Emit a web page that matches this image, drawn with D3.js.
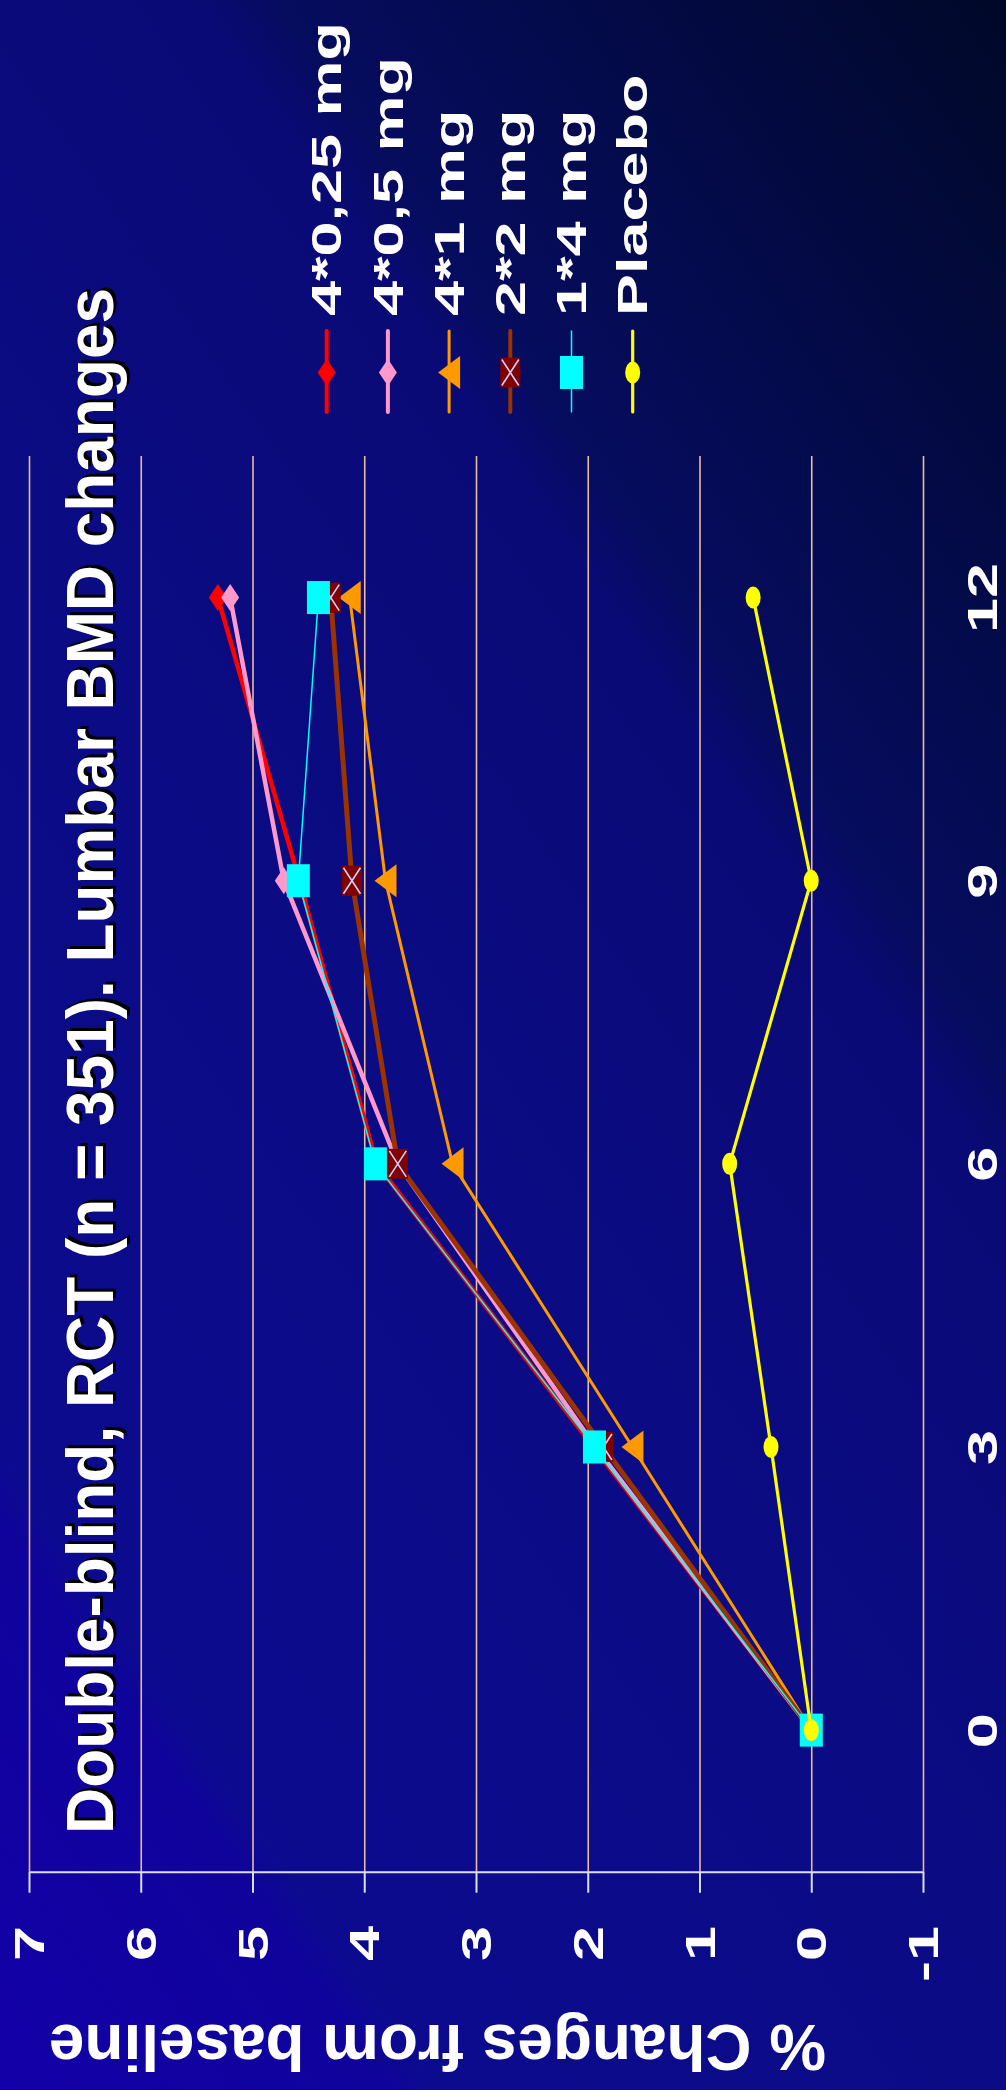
<!DOCTYPE html>
<html>
<head>
<meta charset="utf-8">
<script src="https://cdn.jsdelivr.net/npm/d3@7"></script>
<style>
  html, body { margin: 0; padding: 0; background: #0b0b80; }
  svg { display: block; }
</style>
</head>
<body>
<svg id="chart" width="1006" height="2090"></svg>
<script>
// Months after baseline (category axis)
const months = [0, 3, 6, 9, 12];

// Mean % change of lumbar BMD from baseline, one array per treatment arm
const dose4x025 = [0, 1.95, 3.89, 4.58, 5.31];
const dose4x05  = [0, 1.93, 3.70, 4.72, 5.20];
const dose4x1   = [0, 1.60, 3.21, 3.81, 4.13];
const dose2x2   = [0, 1.86, 3.70, 4.11, 4.30];
const dose1x4   = [0, 1.94, 3.90, 4.59, 4.41];
const placebo   = [0, 0.36, 0.73, 0.00, 0.52];

const seriesNames = ["4*0,25 mg", "4*0,5 mg", "4*1 mg", "2*2 mg", "1*4 mg", "Placebo"];
const valueTicks = [-1, 0, 1, 2, 3, 4, 5, 6, 7];
const titleText = "Double-blind, RCT (n = 351). Lumbar BMD changes";
const axisTitleText = "% Changes from baseline";

const seriesValues = [dose4x025, dose4x05, dose4x1, dose2x2, dose1x4, placebo];

const styles = [
  { stroke: "#ff0000", width: 4.5, marker: "diamond",  fill: "#ff0000" },
  { stroke: "#ff99cc", width: 4.5, marker: "diamond",  fill: "#ff99cc" },
  { stroke: "#ff9900", width: 3,   marker: "triangle", fill: "#ff9900" },
  { stroke: "#993300", width: 5,   marker: "xsquare",  fill: "#800000" },
  { stroke: "#00ffff", width: 1.5, marker: "square",   fill: "#00ffff" },
  { stroke: "#ffff00", width: 3.2, marker: "circle",   fill: "#ffff00" }
];

const FONT = "'Liberation Sans', Arial, Helvetica, sans-serif";
const gridColor = "#e9bc9f";
const axisColor = "#dcdcf2";

const svg = d3.select("#chart");

// ---- background ----
const defs = svg.append("defs");
const bg = defs.append("linearGradient")
  .attr("id", "bg").attr("gradientUnits", "userSpaceOnUse")
  .attr("x1", 0).attr("y1", 2090).attr("x2", 1660).attr("y2", 962);
[
  [0, "#1300a8"], [0.16, "#0f039b"], [0.18, "#0c0b8f"], [0.45, "#0b0b84"],
  [0.665, "#0a0a76"], [0.70, "#060c5e"], [0.85, "#030a44"], [1, "#000828"]
].forEach(([o, c]) => bg.append("stop").attr("offset", o).attr("stop-color", c));
svg.append("rect").attr("width", 1006).attr("height", 2090).attr("fill", "url(#bg)");

// ---- scales: the chart is laid out turned a quarter turn ----
const plotTop = 456, plotBottom = 1871.7;
const vx = d3.scaleLinear().domain([-1, 7]).range([923, 29]);
const cy = d3.scalePoint().domain(months).range([plotBottom, plotTop]).padding(0.5);

// gridlines
const grid = svg.append("g").attr("transform", `translate(0,${plotBottom})`)
  .call(d3.axisBottom(vx).tickValues(valueTicks).tickSize(-(plotBottom - plotTop)).tickFormat(""));
grid.select(".domain").remove();
grid.selectAll("line").attr("stroke", gridColor).attr("stroke-width", 1.6);

// value axis with tick labels
const vAxis = svg.append("g").attr("transform", `translate(0,${plotBottom})`)
  .call(d3.axisBottom(vx).tickValues(valueTicks).tickSize(21).tickSizeOuter(0));
vAxis.attr("font-family", FONT).attr("font-size", 42).attr("font-weight", "bold");
vAxis.select(".domain").attr("stroke", axisColor).attr("stroke-width", 2);
vAxis.selectAll(".tick line").attr("stroke", axisColor).attr("stroke-width", 2);
vAxis.selectAll(".tick text")
  .attr("y", null).attr("dy", "0.35em").attr("fill", "#ffffff")
  .attr("text-anchor", "end")
  .attr("transform", `translate(0,${1926 - plotBottom}) rotate(-90) scale(1.5,1)`)
  .text(d => String(d));

// category axis labels
const cAxis = svg.append("g").attr("transform", "translate(923,0)")
  .call(d3.axisRight(cy).tickSize(0));
cAxis.attr("font-family", FONT).attr("font-size", 42).attr("font-weight", "bold");
cAxis.select(".domain").remove();
cAxis.selectAll(".tick text")
  .attr("x", null).attr("dy", "0.35em").attr("fill", "#ffffff")
  .attr("text-anchor", "middle")
  .attr("transform", "translate(59,0) rotate(-90) scale(1.5,1)");

// ---- markers ----
function drawMarker(g, kind, x, y, st) {
  if (kind === "diamond") {
    const hx = 9, hy = 13.5;
    g.append("path").attr("d", `M${x - hx},${y}L${x},${y - hy}L${x + hx},${y}L${x},${y + hy}Z`)
      .attr("fill", st.fill);
  } else if (kind === "triangle") {
    const hx = 11, hy = 16.5;
    g.append("path").attr("d", `M${x - hx},${y}L${x + hx},${y - hy}L${x + hx},${y + hy}Z`)
      .attr("fill", st.fill);
  } else if (kind === "xsquare") {
    const hx = 10, hy = 15;
    g.append("rect").attr("x", x - hx).attr("y", y - hy).attr("width", 2 * hx).attr("height", 2 * hy)
      .attr("fill", st.fill);
    g.append("path")
      .attr("d", `M${x - hx + 1.5},${y - hy + 2}L${x + hx - 1.5},${y + hy - 2}M${x + hx - 1.5},${y - hy + 2}L${x - hx + 1.5},${y + hy - 2}`)
      .attr("stroke", "#cfcfff").attr("stroke-width", 1.6).attr("fill", "none");
  } else if (kind === "square") {
    const hx = 11.5, hy = 16.5;
    g.append("rect").attr("x", x - hx).attr("y", y - hy).attr("width", 2 * hx).attr("height", 2 * hy)
      .attr("fill", st.fill);
  } else if (kind === "circle") {
    g.append("ellipse").attr("cx", x).attr("cy", y).attr("rx", 7.5).attr("ry", 11)
      .attr("fill", st.fill);
  }
}

// ---- series ----
const line = d3.line().x(d => vx(d.v)).y(d => cy(d.m));
seriesValues.forEach((vals, i) => {
  const st = styles[i];
  const pts = months.map((m, j) => ({ m, v: vals[j] }));
  const g = svg.append("g");
  g.append("path").datum(pts).attr("d", line)
    .attr("fill", "none").attr("stroke", st.stroke).attr("stroke-width", st.width)
    .attr("stroke-linejoin", "round").attr("stroke-linecap", "round");
  pts.forEach(p => drawMarker(g, st.marker, vx(p.v), cy(p.m), st));
});

// ---- legend ----
const legendX = d3.scalePoint().domain(seriesNames).range([326.7, 632.7]);
const legend = svg.append("g").attr("font-family", FONT).attr("font-size", 42).attr("font-weight", "bold");
seriesNames.forEach((name, i) => {
  const st = styles[i];
  const x = legendX(name);
  const g = legend.append("g");
  g.append("line").attr("x1", x).attr("x2", x).attr("y1", 331).attr("y2", 412)
    .attr("stroke", st.stroke).attr("stroke-width", Math.min(st.width, 4)).attr("stroke-linecap", "round");
  drawMarker(g, st.marker, x, 372.5, st);
  g.append("text").attr("transform", `translate(${x},316) rotate(-90) scale(1.5,1)`)
    .attr("dy", "0.35em").attr("fill", "#ffffff").text(name);
});

// ---- titles ----
const titleG = svg.append("g").attr("font-family", FONT).attr("font-weight", "bold").attr("font-size", 66);
titleG.append("text").attr("transform", "translate(116,1831) rotate(-90)")
  .attr("textLength", 1546).attr("lengthAdjust", "spacingAndGlyphs")
  .attr("fill", "#000000").text(titleText);
titleG.append("text").attr("transform", "translate(113,1834) rotate(-90)")
  .attr("textLength", 1546).attr("lengthAdjust", "spacingAndGlyphs")
  .attr("fill", "#ffffff").text(titleText);

svg.append("text").attr("font-family", FONT).attr("font-weight", "bold").attr("font-size", 64)
  .attr("transform", "translate(826,2025) rotate(180)")
  .attr("textLength", 777).attr("lengthAdjust", "spacingAndGlyphs")
  .attr("fill", "#ffffff").text(axisTitleText);
</script>
</body>
</html>
